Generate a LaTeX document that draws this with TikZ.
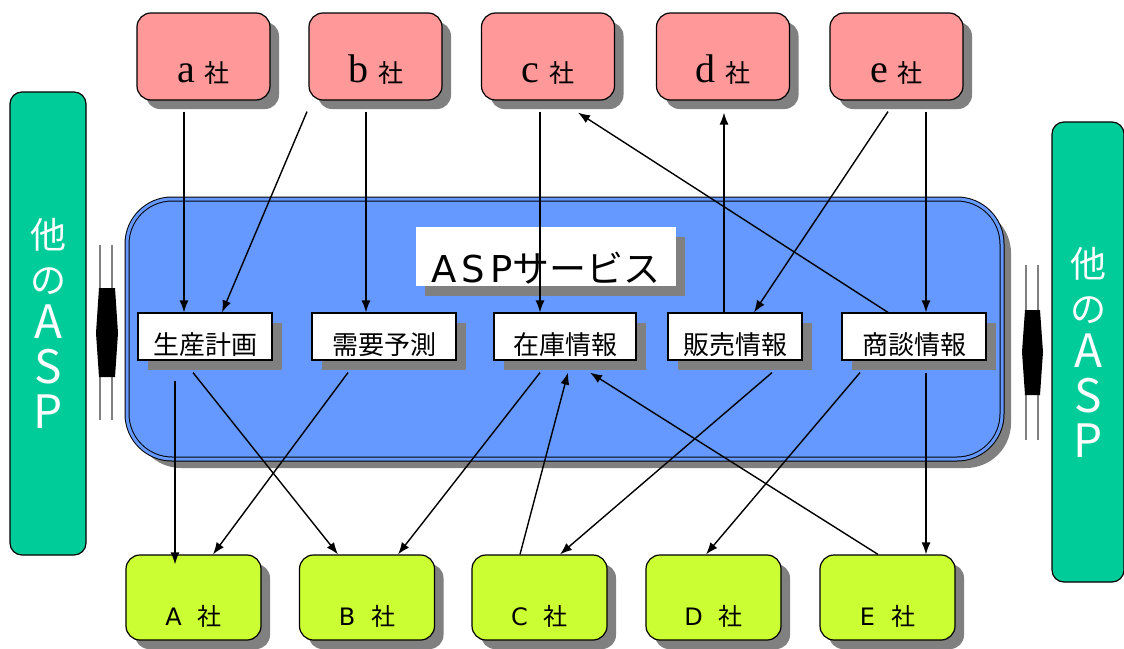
\documentclass[tikz,border=0pt]{standalone}
\usepackage{fontspec}
\setmainfont{DejaVu Sans}
\newfontfamily\jpfont{Noto Sans CJK JP}
\newfontfamily\romanfont{Liberation Serif}
\usetikzlibrary{shadows,arrows.meta}
\definecolor{upperbg}{HTML}{FF9999}
\definecolor{lowerbg}{HTML}{CCFF33}
\definecolor{otherbg}{HTML}{00CC99}
\definecolor{servicebg}{HTML}{6699FF}

\begin{document}
\begin{tikzpicture}[x=1pt,y=-1pt]
   \tikzstyle{shadowed}=[drop shadow={shadow xshift=9pt, shadow yshift=-9pt, fill=gray, opacity=1}]
   \tikzstyle{upper}=[draw, line width=1.2pt, rounded corners=14pt, fill=upperbg, shadowed, minimum width=133pt, minimum height=87pt, text height=51pt, text depth=0pt]
   \tikzstyle{lower}=[draw, line width=1.2pt, rounded corners=14pt, fill=lowerbg, shadowed, minimum width=135pt, minimum height=85pt, text height=55pt, text depth=0pt, font=\fontsize{24}{24}\selectfont]
   \tikzstyle{other}=[draw, line width=1.2pt, rounded corners=12pt, fill=otherbg, text=white, align=center, minimum width=76pt, font=\jpfont\fontsize{36}{45}\selectfont]
   \tikzstyle{info}=[draw, line width=1.2pt, fill=white, drop shadow={shadow xshift=10pt, shadow yshift=-10pt, fill=gray, opacity=1}, minimum height=47pt, text height=35pt, text depth=0pt, font=\jpfont\fontsize{26}{26}\selectfont]
   \tikzstyle{arrow}=[-{Latex[length=12pt,width=9pt]}, line width=1.4pt]

\useasboundingbox (0,0) rectangle (1124,648);

% other ASP
\node[other, minimum height=463pt] (left) at (48,323.5)
    {他\\の\\{\fontsize{46}{45}\selectfont A}\\{\fontsize{46}{45}\selectfont S}\\{\fontsize{46}{45}\selectfont P}};
\node[other, minimum height=460pt, minimum width=72pt] (right) at (1088,352)
    {他\\の\\{\fontsize{46}{45}\selectfont A}\\{\fontsize{46}{45}\selectfont S}\\{\fontsize{46}{45}\selectfont P}};

% joints
\draw[gray, line width=2pt] (100,245) -- (100,420) (112,245) -- (112,420);
\fill (99,288) -- (115,288) -- (118,333) -- (115,377) -- (99,377) -- (96,333) -- cycle;
\draw[gray, line width=2pt] (1026,265) -- (1026,440) (1038,265) -- (1038,440);
\fill (1025,310) -- (1040,310) -- (1043,352) -- (1040,395) -- (1025,395) -- (1022,352) -- cycle;

% ASP service
\node[draw, line width=1pt, double=servicebg, double distance=3pt, fill=servicebg, rounded corners=45pt, shadowed,
      minimum width=875pt, minimum height=260pt] (service) at (564.5,329) {};
\node[fill=white, drop shadow={shadow xshift=9pt, shadow yshift=-10pt, fill=gray, opacity=1},
      minimum width=260pt, minimum height=59pt, text height=52pt, text depth=0pt,
      font=\fontsize{37}{37}\selectfont] (title) at (546,256.5) {A\hspace{5pt}S\hspace{5pt}P{\jpfont サービス}};

\node[info, minimum width=134pt] (plan)   at (205,336.5) {生産計画};
\node[info, minimum width=144pt] (demand) at (384,336.5) {需要予測};
\node[info, minimum width=142pt] (stock)  at (565,336.5) {在庫情報};
\node[info, minimum width=134pt] (sales)  at (735,336.5) {販売情報};
\node[info, minimum width=144pt] (deal)   at (914,336.5) {商談情報};

% companies
\node[upper] (a) at (203.5,56.5) {{\romanfont\fontsize{40}{40}\selectfont a}\hspace{10pt}{\jpfont\fontsize{25}{25}\selectfont 社}};
\node[upper] (b) at (375.5,56.5) {{\romanfont\fontsize{40}{40}\selectfont b}\hspace{10pt}{\jpfont\fontsize{25}{25}\selectfont 社}};
\node[upper] (c) at (548,56.5)   {{\romanfont\fontsize{40}{40}\selectfont c}\hspace{10pt}{\jpfont\fontsize{25}{25}\selectfont 社}};
\node[upper] (d) at (723,56.5)   {{\romanfont\fontsize{40}{40}\selectfont d}\hspace{10pt}{\jpfont\fontsize{25}{25}\selectfont 社}};
\node[upper] (e) at (896.5,56.5) {{\romanfont\fontsize{40}{40}\selectfont e}\hspace{10pt}{\jpfont\fontsize{25}{25}\selectfont 社}};

\node[lower] (A) at (193.5,597.5) {A\hspace{16pt}{\jpfont 社}};
\node[lower] (B) at (367,597.5)   {B\hspace{16pt}{\jpfont 社}};
\node[lower] (C) at (539.5,597.5) {C\hspace{16pt}{\jpfont 社}};
\node[lower] (D) at (713.5,597.5) {D\hspace{16pt}{\jpfont 社}};
\node[lower] (E) at (887.5,597.5) {E\hspace{16pt}{\jpfont 社}};

% upper links
\draw[arrow] ([xshift=-19.5pt, yshift=-11pt]a.south) -- ([xshift=-21pt]plan.north);
\draw[arrow] ([xshift=-68.5pt, yshift=-11pt]b.south) -- ([xshift=17pt]plan.north);
\draw[arrow] ([xshift=-9.5pt, yshift=-11pt]b.south) -- ([xshift=-18pt]demand.north);
\draw[arrow] ([xshift=-8pt, yshift=-11pt]c.south) -- ([xshift=-25pt]stock.north);
\draw[arrow] ([xshift=-11pt]sales.north) -- ([xshift=1pt, yshift=-12pt]d.south);
\draw[arrow] ([xshift=-8.5pt, yshift=-11pt]e.south) -- ([xshift=19pt]sales.north);
\draw[arrow] ([xshift=29.5pt, yshift=-11pt]e.south) -- ([xshift=12pt]deal.north);
\draw[arrow] ([xshift=-26pt]deal.north) -- ([xshift=30pt, yshift=-12pt]c.south);

% lower links
\draw[arrow] ([xshift=-30pt, yshift=-20pt]plan.south) -- ([xshift=-18.5pt, yshift=-10pt]A.north);
\draw[arrow] ([xshift=-12pt, yshift=-12pt]plan.south) -- ([xshift=-29pt]B.north);
\draw[arrow] ([xshift=-36pt, yshift=-12pt]demand.south) -- ([xshift=19.5pt]A.north);
\draw[arrow] ([xshift=-25pt, yshift=-12pt]stock.south) -- ([xshift=31pt]B.north);
\draw[arrow] ([xshift=-19.5pt]C.north) -- ([xshift=3pt, yshift=-12pt]stock.south);
\draw[arrow] ([xshift=37pt, yshift=-12pt]sales.south) -- ([xshift=20.5pt]C.north);
\draw[arrow] ([xshift=-9.5pt]E.north) -- ([xshift=25pt, yshift=-12pt]stock.south);
\draw[arrow] ([xshift=-54pt, yshift=-12pt]deal.south) -- ([xshift=-7.5pt]D.north);
\draw[arrow] ([xshift=12pt, yshift=-12pt]deal.south) -- ([xshift=38.5pt]E.north);

\end{tikzpicture}
\end{document}
